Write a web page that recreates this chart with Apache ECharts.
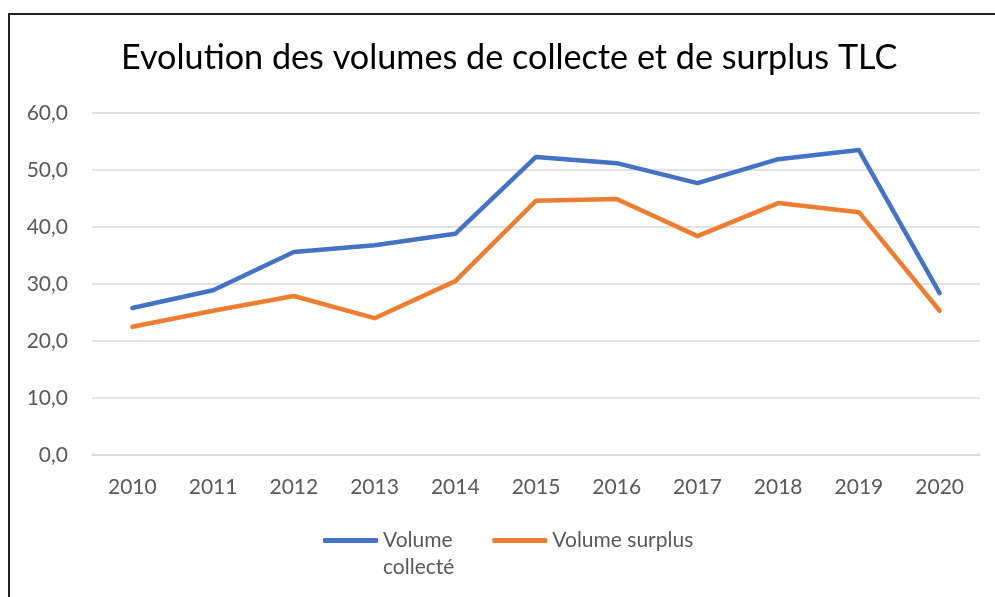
<!DOCTYPE html>
<html>
<head>
<meta charset="utf-8">
<script src="https://cdn.jsdelivr.net/npm/echarts@6/dist/echarts.min.js"></script>
<style>
  html, body { margin: 0; padding: 0; background: #fff; }
  #frame {
    position: absolute; left: 8px; top: 13px; width: 1000px; height: 600px;
    border-left: 2px solid #222; border-top: 2px solid #222;
  }
  #chart { position: absolute; left: 0; top: 0; width: 995px; height: 597px; }
</style>
</head>
<body>
<div id="frame"></div>
<div id="chart"></div>
<script>
const years = ["2010", "2011", "2012", "2013", "2014", "2015", "2016", "2017", "2018", "2019", "2020"];
const volumeCollecte = [25.8, 28.9, 35.6, 36.8, 38.8, 52.3, 51.2, 47.7, 51.9, 53.5, 28.4];
const volumeSurplus = [22.5, 25.3, 27.9, 24.0, 30.5, 44.6, 44.9, 38.4, 44.2, 42.6, 25.3];

const font = "Lato, 'Open Sans', sans-serif";
const chart = echarts.init(document.getElementById("chart"));

chart.setOption({
  animation: false,
  color: ["#4472C4", "#ED7D31"],
  title: {
    text: "Evolution des volumes de collecte et de surplus TLC",
    left: 116,
    top: 36,
    textStyle: { fontFamily: font, fontSize: 34.2, fontWeight: "normal", color: "#000" },
  },
  grid: { left: 92, right: 15, top: 113, bottom: 142 },
  xAxis: {
    type: "category",
    data: years,
    boundaryGap: true,
    axisLine: { lineStyle: { color: "#d9d9d9", width: 1.5 } },
    axisTick: { show: false },
    axisLabel: { margin: 22, fontFamily: font, fontSize: 21, color: "#595959" },
  },
  yAxis: {
    type: "value",
    min: 0,
    max: 60,
    interval: 10,
    axisLine: { show: false },
    axisTick: { show: false },
    axisLabel: {
      margin: 24,
      fontFamily: font,
      fontSize: 21,
      color: "#595959",
      formatter: (v) => v.toFixed(1).replace(".", ","),
    },
    splitLine: { lineStyle: { color: "#d9d9d9", width: 1.5 } },
  },
  legend: {
    left: 318,
    top: 495,
    icon: "roundRect",
    itemWidth: 55,
    itemHeight: 5,
    itemGap: 38,
    textStyle: { fontFamily: font, fontSize: 21, color: "#595959", lineHeight: 27 },
    data: ["Volume collecté", "Volume surplus"],
    // blank first/last lines keep the icon level with the first text line
    formatter: (name) =>
      name === "Volume collecté" ? "\u00a0\nVolume\ncollecté" : "\u00a0\n" + name + "\n\u00a0",
  },
  series: [
    {
      name: "Volume collecté",
      type: "line",
      data: volumeCollecte,
      symbol: "none",
      lineStyle: { width: 4.5, cap: "round", join: "round" },
    },
    {
      name: "Volume surplus",
      type: "line",
      data: volumeSurplus,
      symbol: "none",
      lineStyle: { width: 4.5, cap: "round", join: "round" },
    },
  ],
});
</script>
</body>
</html>
